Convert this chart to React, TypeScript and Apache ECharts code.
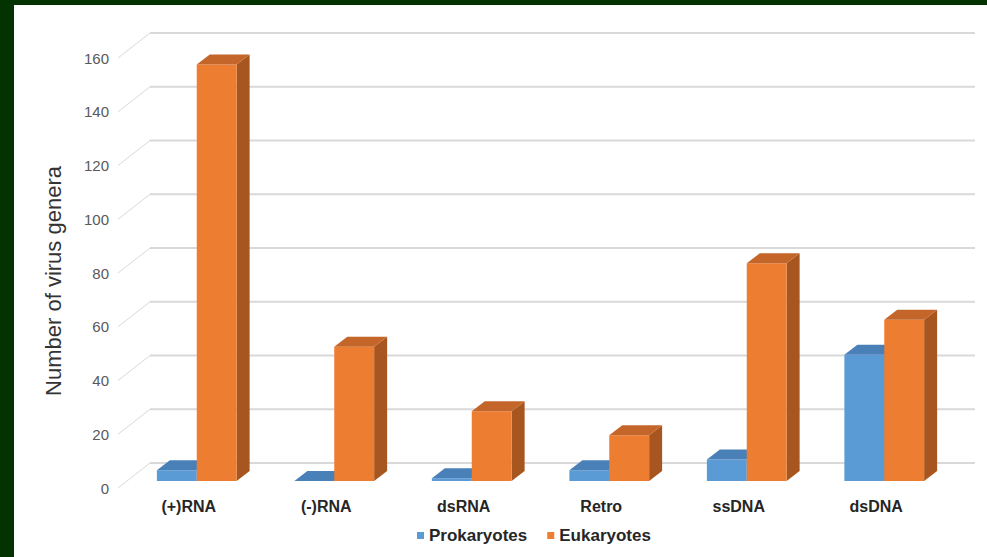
import React, { useEffect, useRef } from "react";
import * as echarts from "echarts";

const categories = ["(+)RNA", "(-)RNA", "dsRNA", "Retro", "ssDNA", "dsDNA"];
const prokaryotes = [4, 0, 1, 4, 8, 47];
const eukaryotes = [155, 50, 26, 17, 81, 60];
const yTicks = [0, 20, 40, 60, 80, 100, 120, 140, 160];
const seriesNames = ["Prokaryotes", "Eukaryotes"];

const BACK_DX = 30;
const BACK_DY = -25;
const BAR_SHIFT_X = 8;
const BAR_SHIFT_Y = -7;
const DEPTH_X = 13;
const DEPTH_Y = -10;

const COLORS = {
  blue: { front: "#5b9bd5", top: "#4a80b8", side: "#3f6f9f" },
  orange: { front: "#ed7d31", top: "#c4652a", side: "#a8561f" },
};

function makeBarRender(which: "blue" | "orange") {
  const c = COLORS[which];
  return (params: any, api: any) => {
    const idx = api.value(0);
    const val = api.value(1);
    const top = api.coord([idx, val]);
    const base = api.coord([idx, 0]);
    const band = api.size([1, 0])[0];
    const w = band * 0.29;
    const x0 = (which === "blue" ? top[0] - w : top[0]) + BAR_SHIFT_X;
    const x1 = x0 + w;
    const yt = top[1] + BAR_SHIFT_Y;
    const yb = base[1] + BAR_SHIFT_Y;
    return {
      type: "group",
      children: [
        {
          type: "polygon",
          shape: {
            points: [
              [x1, yt],
              [x1 + DEPTH_X, yt + DEPTH_Y],
              [x1 + DEPTH_X, yb + DEPTH_Y],
              [x1, yb],
            ],
          },
          style: { fill: c.side },
        },
        {
          type: "rect",
          shape: { x: x0, y: yt, width: w, height: Math.max(yb - yt, 0) },
          style: { fill: c.front },
        },
        {
          type: "polygon",
          shape: {
            points: [
              [x0, yt],
              [x1, yt],
              [x1 + DEPTH_X, yt + DEPTH_Y],
              [x0 + DEPTH_X, yt + DEPTH_Y],
            ],
          },
          style: { fill: c.top },
        },
      ],
    };
  };
}

export default function App() {
  const ref = useRef<HTMLDivElement>(null);

  useEffect(() => {
    if (!ref.current) return;
    const chart = echarts.init(ref.current, null, { renderer: "svg" });
    const option: any = {
      animation: false,
      backgroundColor: "#ffffff",
      grid: { left: 106, right: 42, top: 53, bottom: 69 },
      legend: {
        left: 398,
        top: 517,
        itemWidth: 7,
        itemHeight: 7,
        itemGap: 20,
        textStyle: {
          fontFamily: "Liberation Sans, Arial, sans-serif",
          fontSize: 17,
          fontWeight: "bold",
          color: "#262626",
        },
        data: [
          { name: seriesNames[0], icon: "rect", itemStyle: { color: COLORS.blue.front } },
          { name: seriesNames[1], icon: "rect", itemStyle: { color: COLORS.orange.front } },
        ],
      },
      xAxis: {
        type: "category",
        data: categories,
        axisLine: { show: false },
        axisTick: { show: false },
        splitLine: { show: false },
        axisLabel: {
          margin: 10,
          fontFamily: "Liberation Sans, Arial, sans-serif",
          fontSize: 16,
          fontWeight: "bold",
          color: "#262626",
        },
      },
      yAxis: {
        type: "value",
        min: 0,
        max: 160,
        interval: 20,
        name: "Number of virus genera",
        nameLocation: "middle",
        nameGap: 56,
        nameRotate: 90,
        nameTextStyle: {
          fontFamily: "Liberation Sans, Arial, sans-serif",
          fontSize: 22,
          color: "#333333",
          padding: [0, 0, 0, -16],
        },
        axisLine: { show: false },
        axisTick: { show: false },
        splitLine: { show: false },
        axisLabel: {
          margin: 11,
          fontFamily: "Liberation Sans, Arial, sans-serif",
          fontSize: 15,
          color: "#595959",
        },
      },
      series: [
        {
          name: "grid",
          type: "custom",
          z: 1,
          silent: true,
          data: yTicks.map((v) => [0, v]),
          encode: { x: 0, y: 1 },
          renderItem: (params: any, api: any) => {
            const cs = params.coordSys;
            const y = api.coord([0, api.value(1)])[1];
            const gx = cs.x;
            const gw = cs.width;
            return {
              type: "group",
              children: [
                {
                  type: "line",
                  shape: { x1: gx - 2, y1: y, x2: gx + BACK_DX, y2: y + BACK_DY },
                  style: { stroke: "#d9d9d9", lineWidth: 1 },
                },
                {
                  type: "line",
                  shape: { x1: gx + BACK_DX, y1: y + BACK_DY, x2: gx + gw + BACK_DX, y2: y + BACK_DY },
                  style: { stroke: "#d9d9d9", lineWidth: 2 },
                },
              ],
            };
          },
        },
        {
          name: seriesNames[0],
          type: "custom",
          z: 2,
          data: prokaryotes.map((v, i) => [i, v]),
          encode: { x: 0, y: 1 },
          renderItem: makeBarRender("blue"),
        },
        {
          name: seriesNames[1],
          type: "custom",
          z: 3,
          data: eukaryotes.map((v, i) => [i, v]),
          encode: { x: 0, y: 1 },
          renderItem: makeBarRender("orange"),
        },
      ],
    };
    chart.setOption(option);
    return () => chart.dispose();
  }, []);

  return (
    <div
      style={{
        position: "fixed",
        left: 0,
        top: 0,
        width: 987,
        height: 557,
        background: "#023301",
      }}
    >
      <div
        ref={ref}
        style={{ position: "absolute", left: 14, top: 5, width: 973, height: 552 }}
      />
    </div>
  );
}
